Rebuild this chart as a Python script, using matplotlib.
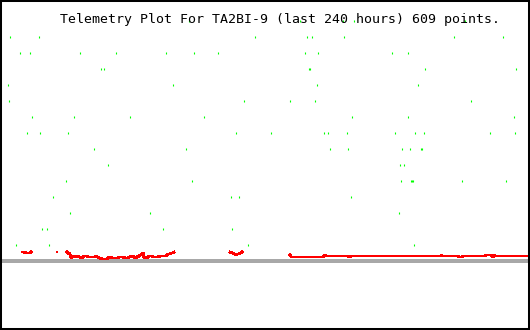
import numpy as np
import matplotlib
matplotlib.use("Agg")
import matplotlib.pyplot as plt

nan = np.nan

title = "Telemetry Plot For TA2BI-9 (last 240 hours) 609 points."

# green channel: (hour, level) dots, levels are quantised steps
green_hours = [
    85.6, 135.8, 155.3, 160.3, 210.6,
    4.5, 17.7, 115.5, 139.0, 141.3, 155.8, 205.6, 227.8,
    9.1, 13.6, 36.2, 52.5, 75.2, 87.8, 98.7, 138.1, 144.0, 177.5, 184.8,
    45.7, 47.1, 139.9, 140.4, 192.5, 233.7,
    3.6, 78.3, 143.5, 189.3,
    4.1, 110.5, 131.3, 142.6, 213.3,
    14.5, 33.5, 58.9, 92.4, 159.4, 184.8, 232.8,
    12.2, 18.1, 30.8, 106.9, 122.7, 146.7, 148.5, 157.1, 178.9, 187.9, 192.0, 221.9, 233.2,
    42.6, 84.2, 149.4, 157.6, 182.0, 185.7, 190.6, 191.1,
    48.9, 181.1, 182.9,
    29.9, 86.9, 181.6, 186.1, 186.6, 187.0, 209.2, 229.1,
    24.0, 104.6, 108.2, 158.9,
    31.7, 67.9, 180.7,
    19.0, 21.3, 73.8, 105.1,
    7.2, 22.2, 112.3, 187.5,
]
green_levels = (
    [15] * 5 + [14] * 8 + [13] * 11 + [12] * 6 + [11] * 4 + [10] * 5
    + [9] * 7 + [8] * 13 + [7] * 8 + [6] * 3 + [5] * 8 + [4] * 4
    + [3] * 3 + [2] * 4 + [1] * 4
)

# red channel, nan marks a gap in the data
red_hours = [
    10.0, 10.9, 11.8, 12.7, 13.6, 14.0, nan,
    30.3, 30.8, 31.7, 32.2, 32.6, 33.5, 34.4, 35.3, 35.8, 36.7, 37.6, 38.0,
    39.4, 40.3, 42.6, 43.5, 44.8, 46.2, 47.1, 48.5, 48.9, 49.8, 50.7, 53.4,
    54.3, 55.7, 56.6, 58.0, 58.4, 59.3, 60.2, 60.7, 61.6, 62.0, 62.9, 63.8,
    64.8, 65.0, 65.7, 66.6, 67.5, 68.8, 69.3, 71.5, 72.5, 75.2, 75.6, 76.5,
    77.9, 78.8, nan,
    104.2, 105.1, 106.0, 106.9, 107.3, 108.2, 109.1, 109.6, nan,
    131.3, 131.8, 145.8, 146.7, 147.2, 147.6, 157.6, 158.5, 158.9, 199.7,
    199.9, 200.2, 207.4, 207.8, 209.2, 209.7, 219.6, 220.1, 222.3, 222.8,
    223.7, 223.9, 224.2, 240.0,
]
red_values = [
    0.54, 0.54, 0.48, 0.48, 0.48, 0.54, nan,
    0.54, 0.48, 0.42, 0.17, 0.29, 0.23, 0.29, 0.29, 0.23, 0.17, 0.23, 0.29,
    0.29, 0.23, 0.23, 0.29, 0.17, 0.11, 0.11, 0.11, 0.17, 0.23, 0.17, 0.17,
    0.23, 0.23, 0.17, 0.17, 0.23, 0.29, 0.29, 0.23, 0.17, 0.23, 0.29, 0.36,
    0.48, 0.23, 0.17, 0.17, 0.29, 0.29, 0.23, 0.23, 0.29, 0.29, 0.36, 0.42,
    0.48, 0.54, nan,
    0.54, 0.48, 0.42, 0.36, 0.42, 0.42, 0.48, 0.54, nan,
    0.36, 0.23, 0.23, 0.29, 0.36, 0.29, 0.29, 0.23, 0.29, 0.29,
    0.36, 0.29, 0.29, 0.23, 0.23, 0.29, 0.29, 0.36, 0.36, 0.26,
    0.26, 0.36, 0.29, 0.29,
]
red_single_hours = [25.8]
red_single_values = [0.54]

fig = plt.figure(figsize=(5.3, 3.3), dpi=100)
ax = fig.add_axes([0, 0, 1, 1])
ax.set_xlim(0, 240)
ax.set_ylim(-4.33, 16.29)

ax.axhline(0, color="#a8a8a8", linewidth=1.6, antialiased=False, zorder=1)
ax.plot(red_hours, red_values, color="#ff0000", linewidth=1.3,
        antialiased=False, zorder=2)
ax.plot(red_single_hours, red_single_values, "s", color="#ff0000",
        markersize=1.5, markeredgewidth=0, antialiased=False, zorder=2)
ax.plot(green_hours, green_levels, "|", color="#00ff00",
        markersize=1.6, markeredgewidth=0.8, antialiased=False, zorder=3)

ax.set_xticks([])
ax.set_yticks([])
for s in ax.spines.values():
    s.set_linewidth(2.9)
    s.set_color("black")

fig.text(60 / 530, 1 - 23 / 330, title, family="DejaVu Sans Mono",
         fontsize=9.5, color="black", ha="left", va="baseline")

fig.savefig("out.png", dpi=100, facecolor="white")
